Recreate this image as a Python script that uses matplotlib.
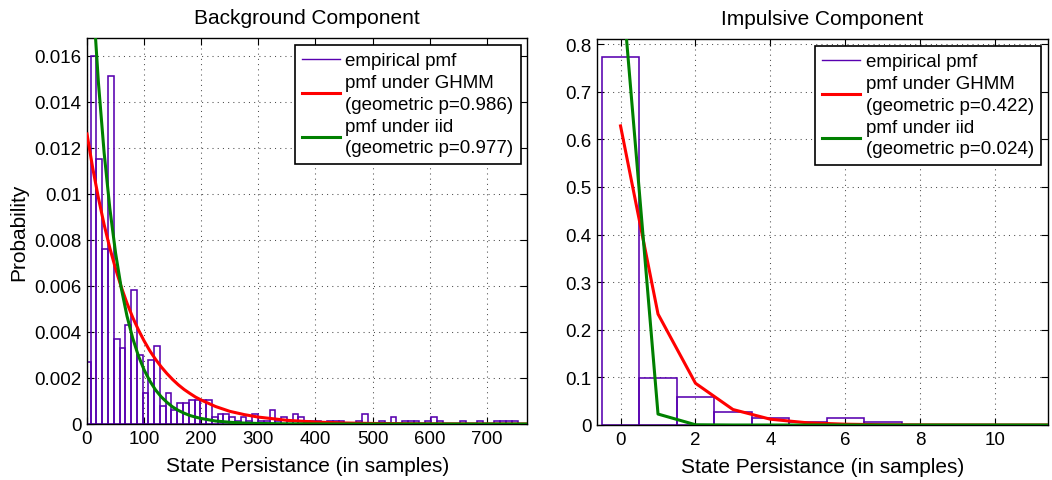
import numpy as np
import matplotlib
matplotlib.use("Agg")
import matplotlib.pyplot as plt
from matplotlib.lines import Line2D

# ---- Background component: empirical pmf (histogram, 10.1-sample bins) ----
bg_first_center = 1.35
bg_bin_width = 10.1
bg_pmf = [
    0.0027, 0.0160, 0.0115, 0.0076, 0.0151, 0.0037, 0.0033, 0.0043, 0.0058, 0.0030,
    0.00135, 0.0028, 0.0034, 0.00077, 0.00135, 0.0006, 0.0009, 0.0009, 0.00106, 0.00106,
    0.00106, 0.00106, 0.0003, 0.00045, 0.00045, 0.0003, 0.00015, 0.0003, 0.00015, 0.00045,
    0.00015, 0.00015, 0.0006, 0.00015, 0.0003, 0.00015, 0.00045, 0.0003, 0.00015, 0.00015,
    0.00015, 0.0, 0.00015, 0.00015, 0.00015, 0.0, 0.0, 0.00015, 0.00045, 0.0,
    0.0, 0.00015, 0.0, 0.0003, 0.0, 0.00015, 0.00015, 0.00015, 0.0, 0.00015,
    0.0003, 0.00015, 0.0, 0.0, 0.0, 0.00015, 0.0, 0.0, 0.00015, 0.0,
    0.0, 0.00015, 0.00015, 0.00015, 0.00015,
]

# model curves
bg_curve_x = [0, 10, 20, 30, 40, 50, 60, 70, 80, 90, 100, 110, 120, 130, 140, 150,
              160, 170, 180, 190, 200, 225, 250, 275, 300, 350, 400, 450, 500, 600, 780]
bg_ghmm = [0.01260, 0.01112, 0.00982, 0.00866, 0.00764, 0.00675, 0.00595, 0.00525,
           0.00463, 0.00409, 0.00361, 0.00318, 0.00281, 0.00248, 0.00219, 0.00193,
           0.00170, 0.00150, 0.00133, 0.00117, 0.00104, 0.00076, 0.00055, 0.00041,
           0.00030, 0.00016, 0.000085, 0.000045, 0.000024, 0.000007, 0.000001]
bg_iid = [0.02350, 0.01867, 0.01483, 0.01178, 0.00936, 0.00743, 0.00590, 0.00469,
          0.00373, 0.00296, 0.00235, 0.00187, 0.00148, 0.00118, 0.00094, 0.00074,
          0.00059, 0.00047, 0.00037, 0.00030, 0.00024, 0.00013, 0.000075, 0.000042,
          0.000024, 0.000008, 0.000002, 0.0, 0.0, 0.0, 0.0]

# ---- Impulsive component ----
imp_centers = [0, 1, 2, 3, 4, 5, 6, 7]
imp_pmf = [0.773, 0.0985, 0.058, 0.028, 0.0145, 0.007, 0.0145, 0.007]
imp_curve_x = [0, 1, 2, 3, 4, 5, 6, 7, 8, 9, 10, 11, 12]
imp_ghmm = [0.628, 0.233, 0.0876, 0.0325, 0.0121, 0.0045, 0.0017, 0.0006, 0.0002,
            0.0001, 0.0, 0.0, 0.0]
imp_iid = [0.96, 0.023, 0.0005, 0.0, 0.0, 0.0, 0.0, 0.0, 0.0, 0.0, 0.0, 0.0, 0.0]

bg_labels = ["empirical pmf", "pmf under GHMM\n(geometric p=0.986)",
             "pmf under iid\n(geometric p=0.977)"]
imp_labels = ["empirical pmf", "pmf under GHMM\n(geometric p=0.422)",
              "pmf under iid\n(geometric p=0.024)"]

PURPLE = "#5800b0"
RED = "#ff0000"
GREEN = "#008000"

plt.rcParams['font.family'] = ['Liberation Sans', 'DejaVu Sans']


def style_axes(ax):
    ax.grid(True, linestyle=(0, (1, 4)), color="0.3", linewidth=0.75)
    ax.tick_params(direction="in", top=True, right=True, length=5, width=0.8,
                   labelsize=13.5, pad=4)
    for sp in ax.spines.values():
        sp.set_linewidth(1.0)
        sp.set_color("black")


def add_legend(ax, labels):
    handles = [Line2D([], [], color=PURPLE, lw=1.0),
               Line2D([], [], color=RED, lw=2.2),
               Line2D([], [], color=GREEN, lw=2.2)]
    leg = ax.legend(handles, labels, loc="upper right", fontsize=13.5,
                    frameon=True, fancybox=False, edgecolor="black", framealpha=1,
                    borderaxespad=0.35, handlelength=2.0, handletextpad=0.3,
                    labelspacing=0.25, borderpad=0.4)
    leg.get_frame().set_linewidth(1.2)
    for t in leg.get_texts():
        t.set_linespacing(1.38)


fig = plt.figure(figsize=(10.52, 4.81), dpi=100)
ax1 = fig.add_axes([87 / 1052, 56 / 481, 440.4 / 1052, 386 / 481])
ax2 = fig.add_axes([597.3 / 1052, 55 / 481, 450.5 / 1052, 386 / 481])

# left panel
bg_centers = bg_first_center + bg_bin_width * np.arange(len(bg_pmf))
ax1.bar(bg_centers, bg_pmf, width=bg_bin_width, facecolor="none",
        edgecolor=PURPLE, linewidth=1.15, zorder=2)
ax1.plot(bg_curve_x, bg_ghmm, color=RED, lw=2.2, zorder=3)
ax1.plot(bg_curve_x, bg_iid, color=GREEN, lw=2.2, zorder=4)
ax1.set_xlim(0, 771)
ax1.set_ylim(0, 0.01677)
ax1.set_xticks(range(0, 701, 100))
ax1.set_yticks(np.arange(0, 0.0161, 0.002))
ax1.set_yticklabels(["0", "0.002", "0.004", "0.006", "0.008", "0.01",
                     "0.012", "0.014", "0.016"])
style_axes(ax1)
ax1.set_title("Background Component", fontsize=15, pad=11)
ax1.set_xlabel("State Persistance (in samples)", fontsize=15, labelpad=7)
ax1.set_ylabel("Probability", fontsize=15, labelpad=4)
add_legend(ax1, bg_labels)

# right panel
ax2.bar(imp_centers, imp_pmf, width=1.0, facecolor="none",
        edgecolor=PURPLE, linewidth=1.15, zorder=2)
ax2.plot(imp_curve_x, imp_ghmm, color=RED, lw=2.2, zorder=3)
ax2.plot(imp_curve_x, imp_iid, color=GREEN, lw=2.2, zorder=4)
ax2.set_xlim(-0.62, 11.4)
ax2.set_ylim(0, 0.8105)
ax2.set_xticks(range(0, 11, 2))
ax2.set_yticks(np.arange(0, 0.81, 0.1))
ax2.set_yticklabels(["0", "0.1", "0.2", "0.3", "0.4", "0.5", "0.6", "0.7", "0.8"])
style_axes(ax2)
ax2.set_title("Impulsive Component", fontsize=15, pad=11)
ax2.set_xlabel("State Persistance (in samples)", fontsize=15, labelpad=7)
add_legend(ax2, imp_labels)

fig.savefig("out.png", dpi=100)
